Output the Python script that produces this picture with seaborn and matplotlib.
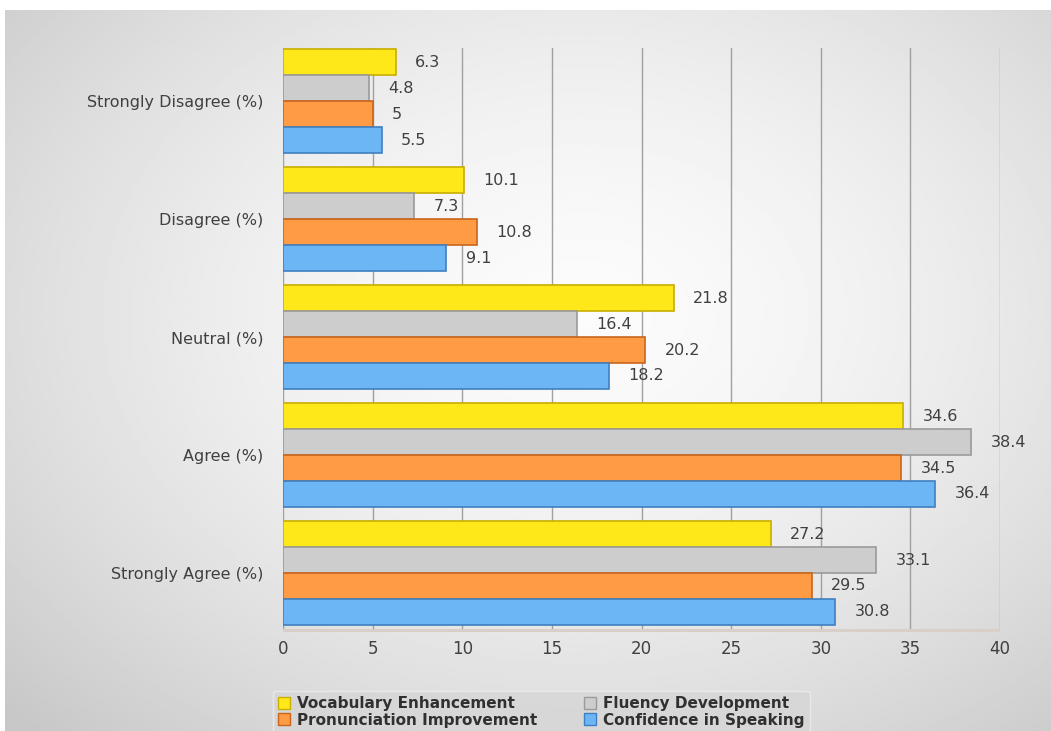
import numpy as np
import pandas as pd
import matplotlib
matplotlib.use("Agg")
import matplotlib.pyplot as plt
import seaborn as sns
from matplotlib.patches import Patch

categories = ["Strongly Disagree (%)", "Disagree (%)", "Neutral (%)", "Agree (%)", "Strongly Agree (%)"]
series = ["Vocabulary Enhancement", "Fluency Development", "Pronunciation Improvement", "Confidence in Speaking"]
vocabulary = [6.3, 10.1, 21.8, 34.6, 27.2]
fluency = [4.8, 7.3, 16.4, 38.4, 33.1]
pronunciation = [5, 10.8, 20.2, 34.5, 29.5]
confidence = [5.5, 9.1, 18.2, 36.4, 30.8]
x_ticks = [0, 5, 10, 15, 20, 25, 30, 35, 40]

colors = ["#FFE81A", "#CDCDCD", "#FF9A45", "#6DB6F5"]
edges = ["#C9AE00", "#9A9A9A", "#C9661C", "#3F7FC0"]

rows = []
for s, vals in zip(series, [vocabulary, fluency, pronunciation, confidence]):
    for c, v in zip(categories, vals):
        rows.append({"Category": c, "Series": s, "Value": v})
df = pd.DataFrame(rows)

sns.set_theme(style="white")
plt.rcParams['font.family'] = ['DejaVu Sans']

W, H = 1051, 731
fig = plt.figure(figsize=(W / 100, H / 100), dpi=100, facecolor="white")

# background gradient panel
bg = fig.add_axes([5 / W, 0, 1 - 5 / W, 1 - 10 / H])
yy, xx = np.mgrid[0:1:300j, 0:1:400j]
r = np.sqrt(((xx - 0.55) / 0.75) ** 2 + ((yy - 0.42) / 0.8) ** 2)
shade = 0.985 - 0.2 * np.clip(r, 0, 1) ** 1.6
bg.imshow(shade, cmap="gray", vmin=0, vmax=1, aspect="auto", extent=[0, 1, 0, 1])
bg.set_axis_off()

ax = fig.add_axes([283 / W, 1 - 632 / H, (1000 - 283) / W, (632 - 48) / H])
ax.patch.set_alpha(0)

sns.barplot(data=df, y="Category", x="Value", hue="Series", order=categories,
            hue_order=series, palette=colors, saturation=1, orient="h", width=0.88,
            ax=ax, legend=False, zorder=3)

for container, ec in zip(ax.containers, edges):
    for bar in container:
        bar.set_edgecolor(ec)
        bar.set_linewidth(1.2)
    labels = [("%g" % b.get_width()) for b in container]
    ax.bar_label(container, labels=labels, padding=14, fontsize=11.5, color="#404040")

ax.set_xlim(0, 40)
ax.set_ylim(4.5, -0.45)
ax.set_xticks(x_ticks)
ax.set_xticklabels([str(t) for t in x_ticks], fontsize=12, color="#404040")
ax.tick_params(axis="y", labelsize=11.5, labelcolor="#404040", length=0, pad=14)
ax.tick_params(axis="x", length=0, pad=6)
ax.set_xlabel("")
ax.set_ylabel("")
ax.grid(axis="x", color="#a0a0a0", linewidth=1.0, zorder=0)
for sp in ax.spines.values():
    sp.set_visible(False)
ax.axhline(4.5, color="#d8cfc8", linewidth=5, zorder=1)

idx = [0, 2, 1, 3]
handles = [Patch(facecolor=colors[i], edgecolor=edges[i], label=series[i]) for i in idx]
leg = fig.legend(handles=handles, ncol=2, loc="lower center", bbox_to_anchor=(0.515, -0.012),
                 frameon=True, fontsize=11, handlelength=0.8, handleheight=0.8,
                 columnspacing=3.0, handletextpad=0.5, labelspacing=0.1,
                 borderpad=0.3, facecolor="#d6d6d6", edgecolor="#eeeeee")
for t in leg.get_texts():
    t.set_fontweight("bold")
    t.set_color("#303030")

fig.savefig("out.png", dpi=100, facecolor="white")
